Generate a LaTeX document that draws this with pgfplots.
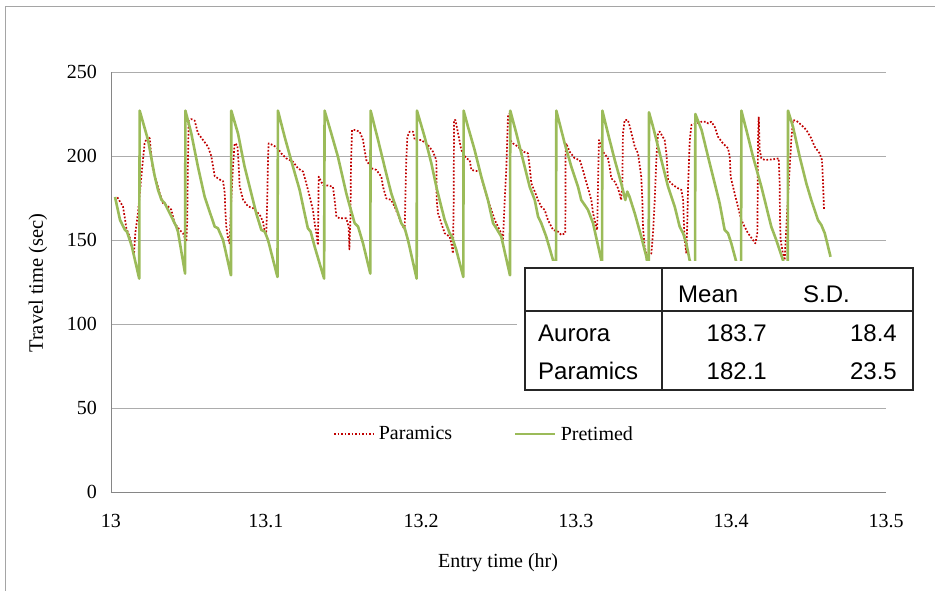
\documentclass[border=0pt]{standalone}
\usepackage{pgfplots}
\pgfplotsset{compat=1.18}
\usepackage{fontspec}
\setmainfont{Liberation Serif}
\newfontfamily\tabfont{Liberation Sans}
\definecolor{pgreen}{RGB}{155,187,89}
\definecolor{pred}{RGB}{192,0,0}
\definecolor{gridg}{RGB}{172,172,172}
\definecolor{axg}{RGB}{134,134,134}
\definecolor{frameg}{RGB}{165,165,165}
\begin{document}
\begin{tikzpicture}
\begin{axis}[
 at={(111pt,99pt)}, anchor=south west,
 scale only axis, width=775pt, height=420pt,
 xmin=13, xmax=13.5, ymin=0, ymax=250,
 axis x line=bottom, axis y line=left,
 axis line style={-, draw=axg, line width=0.9pt},
 xtick={13,13.1,13.2,13.3,13.4,13.5},
 xticklabels={13,13.1,13.2,13.3,13.4,13.5},
 ytick={0,50,100,150,200,250},
 yticklabels={0,50,100,150,200,250},
 major tick length=0pt,
 ymajorgrids, major grid style={draw=gridg, line width=0.9pt},
 tick label style={font=\fontsize{20}{24}\selectfont, inner sep=0pt},
 yticklabel style={xshift=-14pt},
 xticklabel style={yshift=-22pt},
 xlabel={Entry time (hr)},
 xlabel style={at={(axis description cs:0.4994,-0.1690)}, anchor=center, font=\fontsize{20}{24}\selectfont, inner sep=0pt},
 ylabel={Travel time (sec)},
 ylabel style={at={(axis description cs:-0.0942,0.4976)}, anchor=center, rotate=0, font=\fontsize{20.5}{24}\selectfont, inner sep=0pt},
 legend image code/.code={\draw[#1] (0pt,0pt) -- (40pt,0pt);},
 legend style={at={(axis cs:13.1432,34.5)}, anchor=west, draw=none, fill=none, inner sep=0pt,
   font=\fontsize{20}{24}\selectfont, nodes={inner sep=0pt},
   /tikz/every odd column/.append style={column sep=4pt},
   /tikz/every even column/.append style={column sep=62pt}},
 legend columns=2, legend cell align=left,
 clip=false,
]
\addplot[draw=pred, line width=1.7pt, dash pattern=on 1.7pt off 1.8pt, line join=round] coordinates {
(13.0041,175.4) (13.0077,170) (13.0088,164) (13.0099,157) (13.012,152) (13.0135,146) (13.0148,141) (13.0157,154) (13.0174,166) (13.019,182) (13.0202,194) (13.0217,207.5) (13.0234,211.5) (13.025,210.5) (13.026,200) (13.027,192) (13.029,186) (13.0314,178) (13.0335,172) (13.0368,170) (13.0389,168) (13.041,160) (13.0443,156) (13.0465,154) (13.0486,149) (13.0492,162) (13.0496,194) (13.0501,221) (13.0518,222) (13.054,221) (13.0561,213.5) (13.0594,209.5) (13.0626,205.5) (13.0647,200) (13.0658,194) (13.0669,188) (13.0701,186) (13.0723,185) (13.0734,178) (13.0737,168) (13.0744,158) (13.0755,151) (13.0765,148) (13.0776,174) (13.0787,194) (13.0798,207.5) (13.0815,206.5) (13.0824,194) (13.083,182) (13.0852,174) (13.0884,170) (13.0916,169) (13.096,165) (13.098,161) (13.0992,155) (13.1002,154) (13.1008,174) (13.1013,198) (13.1017,207.5) (13.1045,206.5) (13.1077,204.5) (13.1099,201.5) (13.113,198.6) (13.1174,196.6) (13.1206,192.7) (13.1239,190.7) (13.126,183.7) (13.1282,175.8) (13.1303,167.8) (13.1314,160) (13.1325,154) (13.1335,147) (13.134,187.7) (13.1345,186.7) (13.1368,182.7) (13.14,182.4) (13.1432,181.7) (13.1443,173.8) (13.1454,163.9) (13.1475,162.9) (13.1518,162.9) (13.1533,158) (13.1538,144.4) (13.1545,164) (13.1548,193.6) (13.1555,215.5) (13.1572,215.5) (13.1604,214.5) (13.1626,209.5) (13.1636,203.6) (13.1647,197.6) (13.168,192.7) (13.1712,191.7) (13.1744,187.7) (13.1755,181.7) (13.1776,174.8) (13.1808,173.8) (13.183,169.8) (13.1852,164.9) (13.1873,160) (13.1895,156) (13.1899,173.8) (13.1905,197.6) (13.1912,211.5) (13.1927,214.5) (13.1948,214.5) (13.196,209.5) (13.2002,209.5) (13.2045,206.5) (13.2077,202.6) (13.2099,197.6) (13.21,185.7) (13.2101,173.8) (13.211,165.9) (13.2131,160) (13.2153,154) (13.2185,152) (13.2196,148) (13.2206,142) (13.2211,173.8) (13.2213,221.4) (13.2222,221.4) (13.2239,213.5) (13.226,203.6) (13.2292,198.6) (13.2314,197.6) (13.2325,191.7) (13.2379,190.7) (13.24,183.7) (13.2432,173.8) (13.2454,167.9) (13.2476,161.9) (13.2497,157.9) (13.2518,154) (13.2529,150) (13.254,173.8) (13.2551,193.6) (13.2561,223.4) (13.2572,225.4) (13.2575,209.5) (13.2594,207.5) (13.2626,205.5) (13.2658,202.6) (13.269,201.6) (13.2701,193.6) (13.2712,183.7) (13.2734,178.8) (13.2755,173.8) (13.2776,169.8) (13.2798,167.9) (13.2819,161.9) (13.2852,156) (13.2884,155) (13.2905,153) (13.2931,154) (13.2932,174) (13.2933,203.6) (13.2937,207.5) (13.2959,202.6) (13.2992,198.6) (13.3024,197.6) (13.3045,191.7) (13.3056,187.7) (13.3077,181) (13.3099,173.8) (13.311,165.9) (13.3131,157.9) (13.3137,156) (13.3142,183.7) (13.3148,209.5) (13.3174,202.6) (13.3206,198.6) (13.3217,193.6) (13.3228,186.7) (13.325,184.7) (13.3271,180.8) (13.3292,173.8) (13.3299,183.7) (13.3303,213.5) (13.3314,221.4) (13.3335,221.4) (13.3353,215.5) (13.3379,205.5) (13.34,201.6) (13.3421,187.7) (13.3428,173.8) (13.3432,157.9) (13.3443,146) (13.3454,142) (13.3475,141) (13.3486,142) (13.3497,154) (13.3508,173.8) (13.3518,197.6) (13.3529,213.5) (13.354,214.5) (13.3572,209.5) (13.3583,201.6) (13.3594,185.7) (13.3626,182.7) (13.3658,180.8) (13.368,179.8) (13.3691,173.8) (13.3697,157.9) (13.3701,150) (13.3712,142) (13.3718,160) (13.3723,181.7) (13.3734,209.5) (13.3745,218.5) (13.3777,219.4) (13.381,220.4) (13.3841,220.4) (13.3852,219.4) (13.3873,220.4) (13.3895,217.4) (13.3916,211.5) (13.3948,207.5) (13.3981,204.6) (13.3992,199.6) (13.3998,187.7) (13.4013,181.7) (13.4034,173.8) (13.405,167.9) (13.4067,161.9) (13.4088,157.9) (13.411,154) (13.4142,150) (13.4157,148) (13.417,154) (13.4172,173.8) (13.4174,209.5) (13.4179,223.4) (13.4185,203.6) (13.4196,198.6) (13.4218,197.6) (13.4272,198) (13.4308,198.6) (13.4314,183.7) (13.4316,163.9) (13.432,150) (13.4335,142) (13.4346,138) (13.4352,148) (13.4363,167.9) (13.4379,193.6) (13.4389,209.5) (13.44,221.4) (13.4421,221) (13.4454,218.5) (13.4486,215.5) (13.4518,210.5) (13.454,205.5) (13.4572,201.6) (13.4587,197.6) (13.4594,183.7) (13.46,167.9)
};
\addlegendentry{Paramics}
\addplot[draw=pgreen, line width=2.6pt, line join=round] coordinates {
(13.0026,175.6) (13.0058,162) (13.009,156) (13.0103,155) (13.0135,146) (13.0182,127)
(13.0185,227) (13.0239,209.5) (13.0282,188) (13.0303,180) (13.0325,174) (13.0346,172) (13.0368,168) (13.04,162) (13.0421,158) (13.0432,155) (13.0478,130)
(13.048,227) (13.0518,213.5) (13.0561,193.6) (13.0604,175.8) (13.0647,164) (13.0669,158) (13.069,157) (13.0723,150) (13.0774,129)
(13.0776,227) (13.0819,213.5) (13.0862,193.6) (13.0905,177.8) (13.0937,165.9) (13.097,156) (13.0992,155) (13.1013,150) (13.1074,128)
(13.1077,227) (13.112,211.5) (13.1174,193.6) (13.1217,179.8) (13.1249,165.9) (13.127,157) (13.1288,155) (13.1314,146) (13.1375,127)
(13.1378,227) (13.1421,213.5) (13.1464,199.6) (13.1518,177.8) (13.1535,172) (13.1572,160) (13.1594,158) (13.1626,148) (13.1673,130)
(13.1675,227) (13.1723,209.5) (13.1765,193.6) (13.1808,177.8) (13.1852,165.9) (13.1873,160) (13.1895,157) (13.1916,150) (13.1972,127)
(13.1974,227) (13.2023,211.5) (13.2067,195.6) (13.2099,181.7) (13.2131,169.8) (13.2153,161.9) (13.2185,154) (13.22,152) (13.2228,144) (13.2273,128)
(13.2275,227) (13.2303,217.4) (13.2346,203.6) (13.2389,187.7) (13.2432,173.8) (13.2465,160) (13.2486,157) (13.2518,152) (13.2574,129)
(13.2576,227) (13.2615,213.5) (13.2658,197.6) (13.2701,181.7) (13.2734,173.8) (13.2755,164) (13.2776,160) (13.2808,152) (13.2852,138) (13.2871,130)
(13.2873,227) (13.2927,207.5) (13.297,193.6) (13.3013,181.7) (13.3034,173.8) (13.3055,171) (13.3077,168) (13.311,160) (13.3163,138) (13.3168,130)
(13.317,227) (13.3206,213.5) (13.325,197.6) (13.3292,183.7) (13.3318,173.8) (13.3331,178.8) (13.3345,175.8) (13.3379,165.9) (13.3421,152) (13.3454,140) (13.3469,130)
(13.3471,226) (13.3497,217.4) (13.354,201.6) (13.3594,181.7) (13.3637,169.8) (13.3669,157.9) (13.3691,154) (13.3712,148) (13.3733,138) (13.3768,130)
(13.377,225) (13.381,215.5) (13.3852,199.6) (13.3895,183.7) (13.3927,171.8) (13.3959,156) (13.3981,154) (13.4002,148) (13.4034,137) (13.4065,130)
(13.4067,227) (13.4099,215.5) (13.4142,199.6) (13.4196,181.7) (13.4228,169.8) (13.426,157.9) (13.4292,150) (13.4335,138) (13.4366,130)
(13.4368,227) (13.44,217.4) (13.4443,199.6) (13.4486,183.7) (13.4518,173.8) (13.4561,161.9) (13.4583,158.9) (13.4605,154) (13.4637,142) (13.4642,140)
};
\addlegendentry{Pretimed}
\end{axis}
% statistics table
\fill[white] (517pt,195pt) rectangle (921pt,330pt);
\draw[black!85, line width=1.6pt] (525pt,201pt) rectangle (913pt,323pt);
\draw[black!85, line width=1.6pt] (662pt,201pt) -- (662pt,323pt);
\draw[black!85, line width=1.6pt] (525pt,280pt) -- (913pt,280pt);
\begin{scope}[every node/.style={inner sep=0pt, font=\tabfont\fontsize{24}{28}\selectfont}]
\node[anchor=base west] at (678pt,288pt) {Mean};
\node[anchor=base west] at (803pt,288pt) {S.D.};
\node[anchor=base west] at (538pt,249pt) {Aurora};
\node[anchor=base east] at (767pt,249pt) {183.7};
\node[anchor=base east] at (897pt,249pt) {18.4};
\node[anchor=base west] at (538pt,211pt) {Paramics};
\node[anchor=base east] at (767pt,211pt) {182.1};
\node[anchor=base east] at (897pt,211pt) {23.5};
\end{scope}
% outer chart frame
\draw[frameg, line width=1pt] (5pt,-5pt) -- (5pt,584pt) -- (945pt,584pt);
\pgfresetboundingbox
\useasboundingbox (0pt,0pt) rectangle (935pt,591pt);
\end{tikzpicture}
\end{document}
